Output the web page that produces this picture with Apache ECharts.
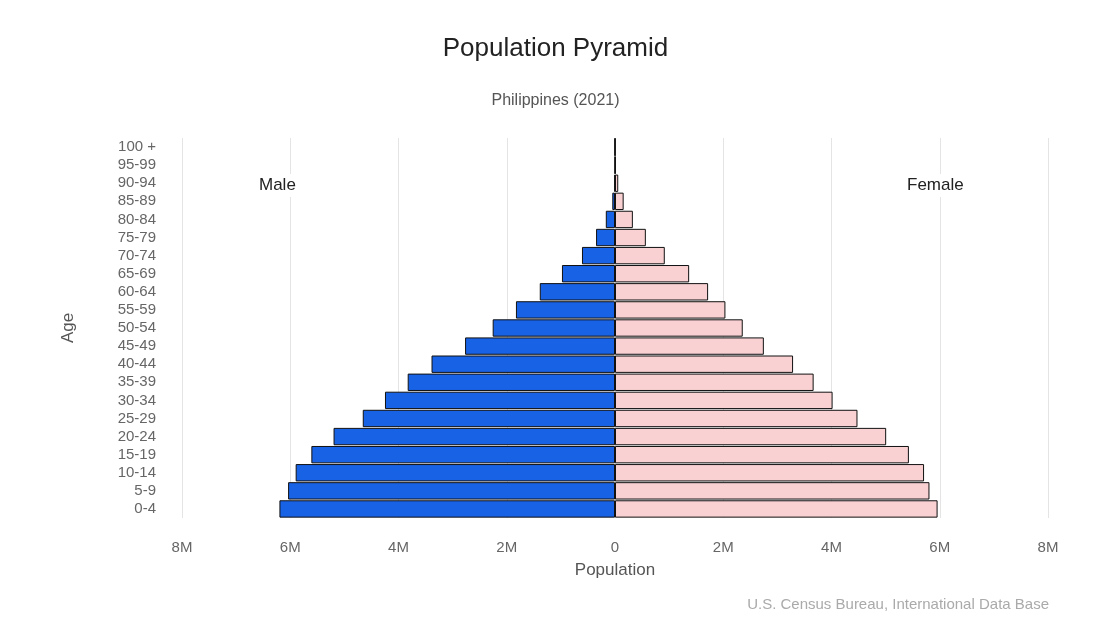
<!DOCTYPE html>
<html><head><meta charset="utf-8">
<script src="https://cdn.jsdelivr.net/npm/echarts@6/dist/echarts.min.js"></script>
<style>html,body{margin:0;padding:0;background:#fff}#c{width:1111px;height:626px}</style>
</head><body><div id="c"></div>
<script>
const ageGroups = ['0-4','5-9','10-14','15-19','20-24','25-29','30-34','35-39','40-44','45-49','50-54','55-59','60-64','65-69','70-74','75-79','80-84','85-89','90-94','95-99','100 +'];
const maleM = [6.20,6.04,5.90,5.61,5.20,4.66,4.25,3.83,3.39,2.77,2.26,1.83,1.39,0.98,0.61,0.35,0.17,0.05,0.012,0.002,0.0005];
const femaleM = [5.96,5.81,5.71,5.43,5.01,4.48,4.02,3.67,3.29,2.75,2.36,2.04,1.72,1.37,0.92,0.57,0.33,0.16,0.06,0.012,0.002];
const xTicks = [-8,-6,-4,-2,0,2,4,6,8];

const chart = echarts.init(document.getElementById('c'));
const font = 'Liberation Sans, Arial, sans-serif';
chart.setOption({
  animation: false,
  title: [
    {text: 'Population Pyramid', left: 'center', top: 31, textStyle: {fontFamily: font, fontSize: 26, fontWeight: 'normal', color: '#222'}},
    {text: 'Philippines (2021)', left: 'center', top: 88, textStyle: {fontFamily: font, fontSize: 16, fontWeight: 'normal', color: '#555'}}
  ],
  grid: {left: 182, right: 63, top: 138, bottom: 108},
  xAxis: {
    type: 'value', min: -8e6, max: 8e6, interval: 2e6,
    name: 'Population', nameLocation: 'middle', nameGap: 44,
    nameTextStyle: {fontFamily: font, fontSize: 17, color: '#555'},
    axisLine: {show: false}, axisTick: {show: false},
    axisLabel: {fontFamily: font, fontSize: 15, color: '#666', margin: 22,
      formatter: v => v === 0 ? '0' : Math.abs(v) / 1e6 + 'M'},
    splitLine: {show: true, lineStyle: {color: '#e4e4e4', width: 1}}
  },
  yAxis: {
    type: 'category', data: ageGroups,
    name: 'Age', nameLocation: 'middle', nameGap: 105, nameRotate: 90,
    nameTextStyle: {fontFamily: font, fontSize: 17, color: '#555'},
    axisLine: {show: false}, axisTick: {show: false},
    axisLabel: {interval: 0, fontFamily: font, fontSize: 15, color: '#666', margin: 26, lineHeight: 15},
    splitLine: {show: false}
  },
  series: [
    {name: 'Male', type: 'bar', barGap: '-100%', barCategoryGap: '4%',
     data: maleM.map(v => -v * 1e6),
     itemStyle: {color: '#1862e6', borderColor: '#111', borderWidth: 1}},
    {name: 'Female', type: 'bar', barCategoryGap: '4%',
     data: femaleM.map(v => v * 1e6),
     itemStyle: {color: '#f9d1d3', borderColor: '#111', borderWidth: 1}}
  ],
  graphic: [
    {type: 'text', left: 256, top: 174, z: 10, style: {text: 'Male', font: '17px ' + font, fill: '#222', backgroundColor: '#fff', padding: [3, 3]}},
    {type: 'text', left: 904, top: 174, z: 10, style: {text: 'Female', font: '17px ' + font, fill: '#222', backgroundColor: '#fff', padding: [3, 3]}},
    {type: 'text', right: 62, top: 597, style: {text: 'U.S. Census Bureau, International Data Base', font: '15px ' + font, fill: '#aaa'}}
  ]
});
</script></body></html>
